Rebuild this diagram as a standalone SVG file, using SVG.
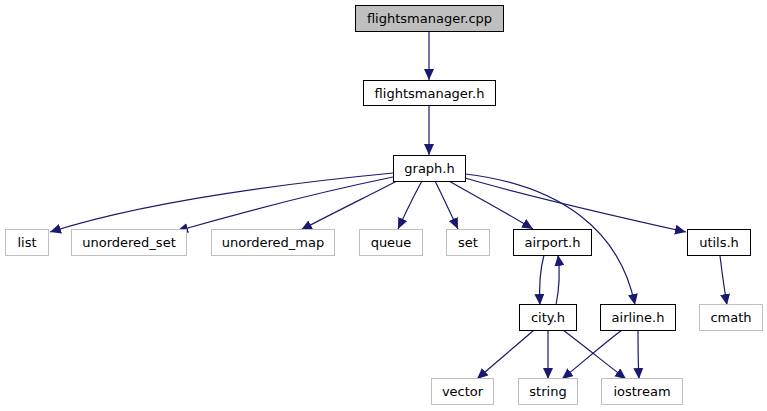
<svg xmlns="http://www.w3.org/2000/svg" width="767" height="411" viewBox="0 0 767 411">
<style>
  .n rect{fill:#fff;stroke:#000;stroke-width:1}
  .root rect{fill:#bfbfbf}
  .sys rect{stroke:#bfbfbf}
  text{font-family:"DejaVu Sans",sans-serif;font-size:13px;text-anchor:middle;fill:#000}
  .e path{fill:none;stroke:#191970;stroke-width:1.2}
</style>
<defs>
  <marker id="a" markerUnits="userSpaceOnUse" markerWidth="12" markerHeight="10" viewBox="0 0 12 10" refX="11" refY="5" orient="auto">
    <path d="M0,0 L11,5 L0,10 Z" fill="#191970"/>
  </marker>
</defs>
<rect width="767" height="411" fill="#fff"/>
<g class="e" marker-end="url(#a)">
  <path marker-end="url(#a)" d="M429,31 V80"/>
  <path marker-end="url(#a)" d="M429,105 V155"/>
  <path marker-end="url(#a)" d="M393,173 C300,182 150,200 50,232"/>
  <path marker-end="url(#a)" d="M393,177 C330,190 250,210 177,231"/>
  <path marker-end="url(#a)" d="M397,181 C370,195 335,212 301,230"/>
  <path marker-end="url(#a)" d="M422,181 C414,195 406,212 398,229"/>
  <path marker-end="url(#a)" d="M435,181 C442,195 450,212 458,229"/>
  <path marker-end="url(#a)" d="M449,181 C475,196 505,212 533,229"/>
  <path marker-end="url(#a)" d="M465,178 C530,197 610,215 686,232"/>
  <path marker-end="url(#a)" d="M465,174 C560,185 620,230 635,305"/>
  <path marker-end="url(#a)" d="M544,255 C540,270 539,288 540,305"/>
  <path marker-end="url(#a)" d="M556,305 C559,290 560,270 558,255"/>
  <path marker-end="url(#a)" d="M720,256 C722,272 724,288 727,305"/>
  <path marker-end="url(#a)" d="M534,330 C517,345 495,363 477,379"/>
  <path marker-end="url(#a)" d="M548,330 V379"/>
  <path marker-end="url(#a)" d="M563,330 C583,345 605,363 626,379"/>
  <path marker-end="url(#a)" d="M622,330 C602,345 582,363 562,379"/>
  <path marker-end="url(#a)" d="M638,330 C638,345 638,363 639,379"/>
</g>
<g id="flightsmanager_cpp" class="n root"><rect x="355.5" y="5.5" width="148" height="26"/><text x="429.5" y="23">flightsmanager.cpp</text></g>
<g id="flightsmanager_h" class="n"><rect x="363.5" y="80.5" width="132" height="25"/><text x="429.5" y="97.5">flightsmanager.h</text></g>
<g id="graph_h" class="n"><rect x="393.5" y="155.5" width="72" height="26"/><text x="429.5" y="173">graph.h</text></g>
<g id="list" class="n sys"><rect x="5.5" y="229.5" width="43" height="26"/><text x="27" y="247">list</text></g>
<g id="unordered_set" class="n sys"><rect x="71.5" y="229.5" width="115" height="26"/><text x="129" y="247">unordered_set</text></g>
<g id="unordered_map" class="n sys"><rect x="211.5" y="229.5" width="123" height="26"/><text x="273" y="247">unordered_map</text></g>
<g id="queue" class="n sys"><rect x="359.5" y="229.5" width="63" height="26"/><text x="391" y="247">queue</text></g>
<g id="set" class="n sys"><rect x="446.5" y="229.5" width="43" height="26"/><text x="468" y="247">set</text></g>
<g id="airport_h" class="n"><rect x="513.5" y="229.5" width="78" height="26"/><text x="552.5" y="247">airport.h</text></g>
<g id="utils_h" class="n"><rect x="687.5" y="229.5" width="63" height="26"/><text x="719" y="247">utils.h</text></g>
<g id="city_h" class="n"><rect x="519.5" y="304.5" width="57" height="26"/><text x="548" y="322">city.h</text></g>
<g id="airline_h" class="n"><rect x="600.5" y="304.5" width="75" height="26"/><text x="638" y="322">airline.h</text></g>
<g id="cmath" class="n sys"><rect x="699.5" y="304.5" width="63" height="26"/><text x="731" y="322">cmath</text></g>
<g id="vector" class="n sys"><rect x="431.5" y="378.5" width="62" height="26"/><text x="462.5" y="396">vector</text></g>
<g id="string" class="n sys"><rect x="518.5" y="378.5" width="59" height="26"/><text x="548" y="396">string</text></g>
<g id="iostream" class="n sys"><rect x="601.5" y="378.5" width="81" height="26"/><text x="642" y="396">iostream</text></g>
</svg>
